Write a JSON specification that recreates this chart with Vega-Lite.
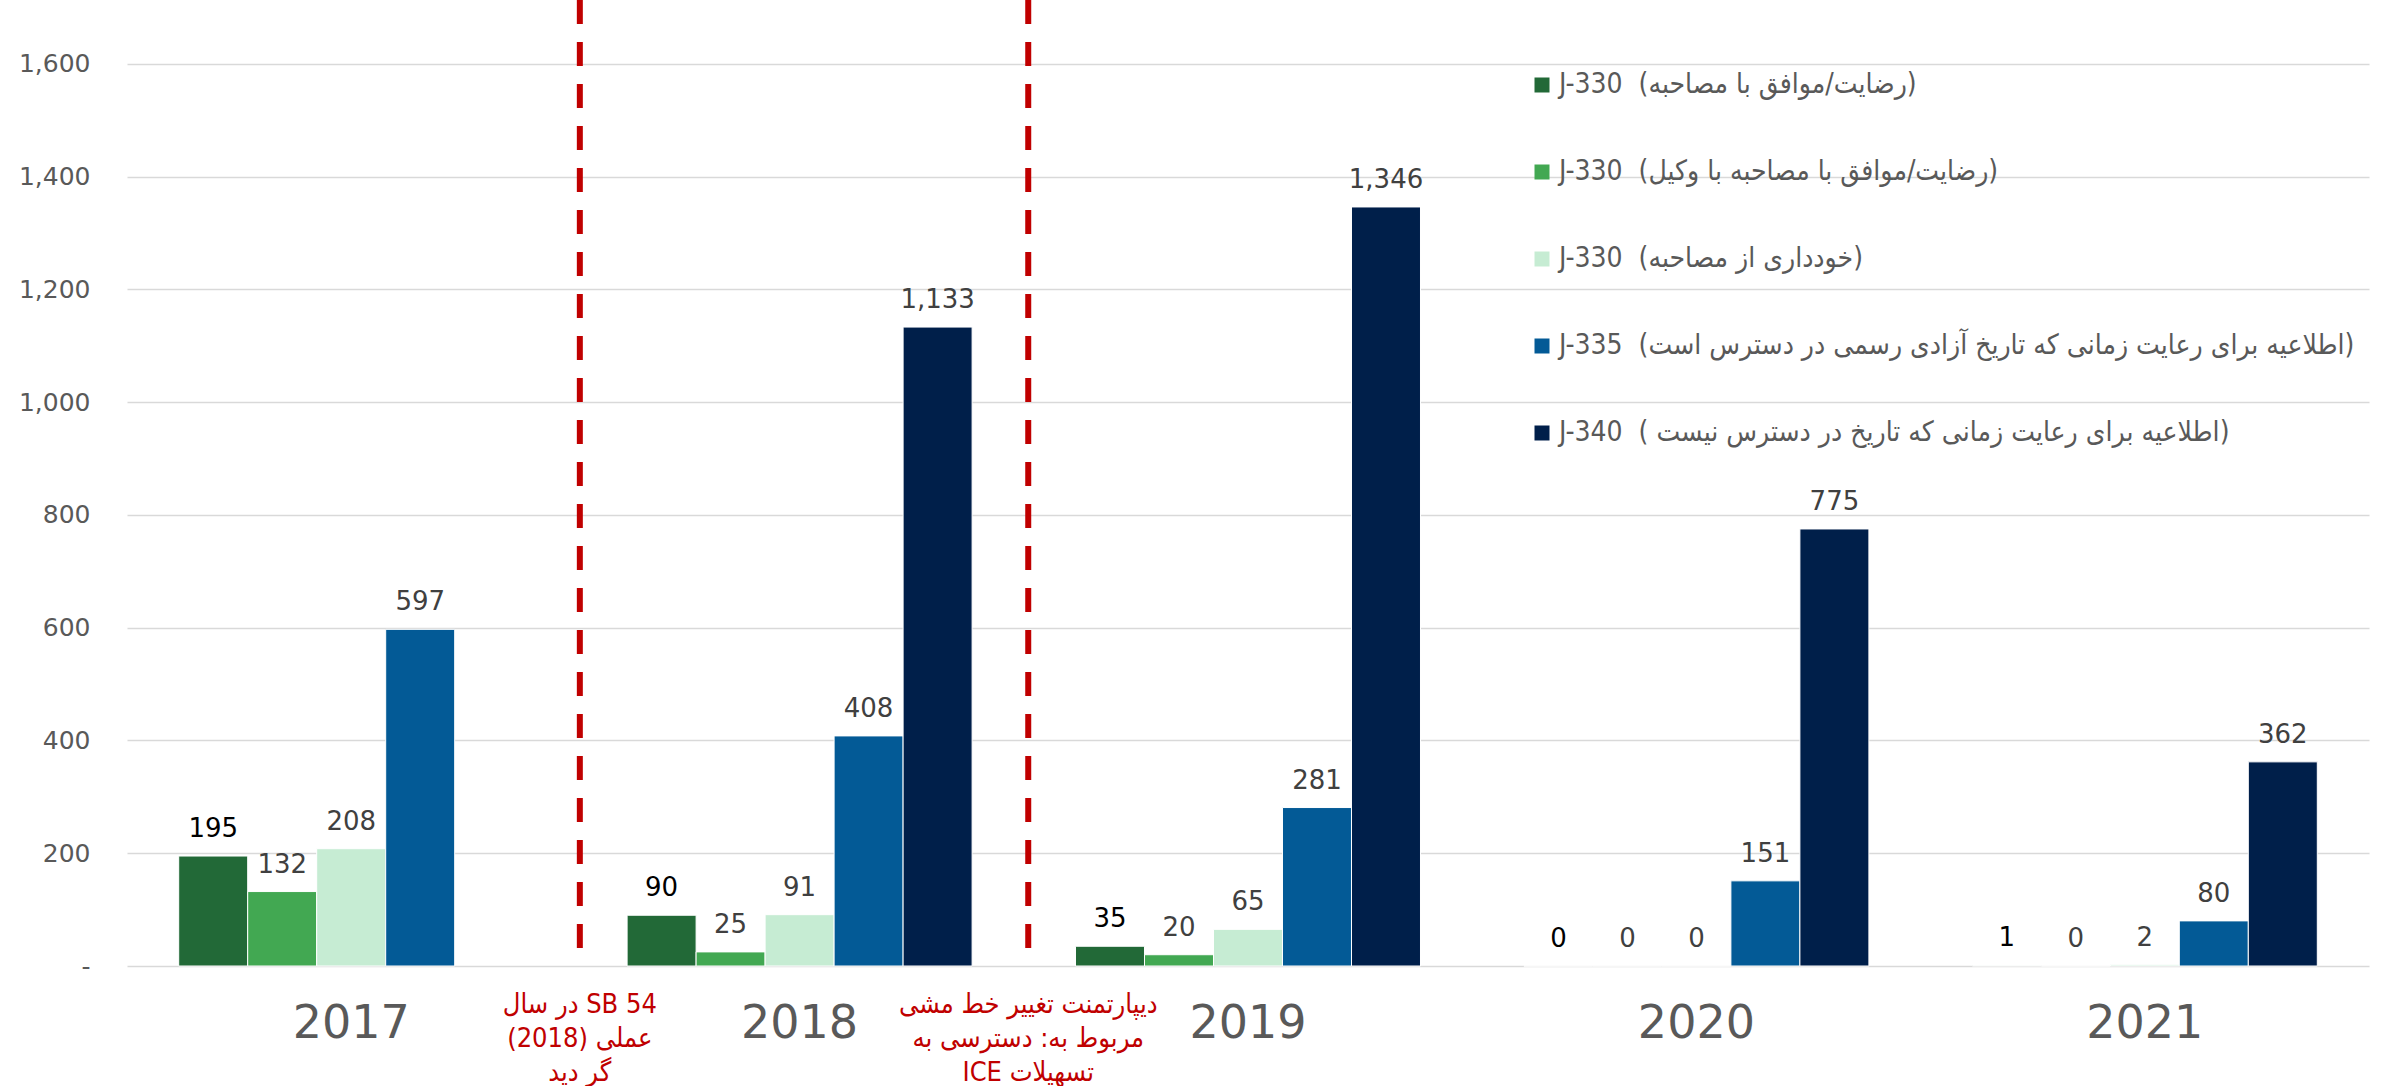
{
  "$schema": "https://vega.github.io/schema/vega-lite/v6.json",
  "width": 2242,
  "height": 966,
  "autosize": {"type": "none"},
  "padding": {"left": 127, "top": 0, "right": 25, "bottom": 120},
  "background": "white",
  "config": {"view": {"stroke": null}, "font": "DejaVu Sans"},
  "datasets": {
    "bars": [
      {"year": "2017", "series": "J-330\u00a0\u00a0(رضایت/موافق با مصاحبه)", "value": 195},
      {"year": "2017", "series": "J-330\u00a0\u00a0(رضایت/موافق با مصاحبه با وکیل)", "value": 132},
      {"year": "2017", "series": "J-330\u00a0\u00a0(خودداری از مصاحبه)", "value": 208},
      {"year": "2017", "series": "J-335\u00a0\u00a0(اطلاعیه برای رعایت زمانی که تاریخ آزادی رسمی در دسترس است)", "value": 597},
      {"year": "2018", "series": "J-330\u00a0\u00a0(رضایت/موافق با مصاحبه)", "value": 90},
      {"year": "2018", "series": "J-330\u00a0\u00a0(رضایت/موافق با مصاحبه با وکیل)", "value": 25},
      {"year": "2018", "series": "J-330\u00a0\u00a0(خودداری از مصاحبه)", "value": 91},
      {"year": "2018", "series": "J-335\u00a0\u00a0(اطلاعیه برای رعایت زمانی که تاریخ آزادی رسمی در دسترس است)", "value": 408},
      {"year": "2018", "series": "J-340\u00a0\u00a0( اطلاعیه برای رعایت زمانی که تاریخ در دسترس نیست)", "value": 1133},
      {"year": "2019", "series": "J-330\u00a0\u00a0(رضایت/موافق با مصاحبه)", "value": 35},
      {"year": "2019", "series": "J-330\u00a0\u00a0(رضایت/موافق با مصاحبه با وکیل)", "value": 20},
      {"year": "2019", "series": "J-330\u00a0\u00a0(خودداری از مصاحبه)", "value": 65},
      {"year": "2019", "series": "J-335\u00a0\u00a0(اطلاعیه برای رعایت زمانی که تاریخ آزادی رسمی در دسترس است)", "value": 281},
      {"year": "2019", "series": "J-340\u00a0\u00a0( اطلاعیه برای رعایت زمانی که تاریخ در دسترس نیست)", "value": 1346},
      {"year": "2020", "series": "J-330\u00a0\u00a0(رضایت/موافق با مصاحبه)", "value": 0},
      {"year": "2020", "series": "J-330\u00a0\u00a0(رضایت/موافق با مصاحبه با وکیل)", "value": 0},
      {"year": "2020", "series": "J-330\u00a0\u00a0(خودداری از مصاحبه)", "value": 0},
      {"year": "2020", "series": "J-335\u00a0\u00a0(اطلاعیه برای رعایت زمانی که تاریخ آزادی رسمی در دسترس است)", "value": 151},
      {"year": "2020", "series": "J-340\u00a0\u00a0( اطلاعیه برای رعایت زمانی که تاریخ در دسترس نیست)", "value": 775},
      {"year": "2021", "series": "J-330\u00a0\u00a0(رضایت/موافق با مصاحبه)", "value": 1},
      {"year": "2021", "series": "J-330\u00a0\u00a0(رضایت/موافق با مصاحبه با وکیل)", "value": 0},
      {"year": "2021", "series": "J-330\u00a0\u00a0(خودداری از مصاحبه)", "value": 2},
      {"year": "2021", "series": "J-335\u00a0\u00a0(اطلاعیه برای رعایت زمانی که تاریخ آزادی رسمی در دسترس است)", "value": 80},
      {"year": "2021", "series": "J-340\u00a0\u00a0( اطلاعیه برای رعایت زمانی که تاریخ در دسترس نیست)", "value": 362}
    ],
    "events": [
      {"year": "2018", "note": "\u200eدر سال SB 54\n\u200e(2018) عملی\nگر دید"},
      {"year": "2019", "note": "دیپارتمنت تغییر خط مشی\nمربوط به: دسترسی به\n\u200eICE تسهیلات"}
    ]
  },
  "layer": [
    {
      "data": {"name": "bars"},
      "mark": {"type": "bar", "stroke": "white", "strokeWidth": 1},
      "encoding": {
        "x": {
          "field": "year", "type": "nominal",
          "scale": {"paddingInner": 0.2306, "paddingOuter": 0.1153},
          "axis": {"title": null, "labelAngle": 0, "labelFontSize": 46, "labelColor": "#595959", "labelPadding": 35, "domain": false, "ticks": false, "labelFont": "DejaVu Sans"}
        },
        "xOffset": {
          "field": "series", "type": "nominal",
          "scale": {"domain": [
            "J-330\u00a0\u00a0(رضایت/موافق با مصاحبه)",
            "J-330\u00a0\u00a0(رضایت/موافق با مصاحبه با وکیل)",
            "J-330\u00a0\u00a0(خودداری از مصاحبه)",
            "J-335\u00a0\u00a0(اطلاعیه برای رعایت زمانی که تاریخ آزادی رسمی در دسترس است)",
            "J-340\u00a0\u00a0( اطلاعیه برای رعایت زمانی که تاریخ در دسترس نیست)"
          ], "paddingInner": 0, "paddingOuter": 0}
        },
        "y": {
          "field": "value", "type": "quantitative",
          "scale": {"domain": [0, 1713], "nice": false},
          "axis": {"title": null, "values": [0, 200, 400, 600, 800, 1000, 1200, 1400, 1600], "labelExpr": "datum.value === 0 ? '-\u00a0\u00a0\u00a0' : format(datum.value, ',')", "domain": false, "ticks": false, "gridColor": "#d9d9d9", "gridWidth": 1.5, "labelFontSize": 25, "labelColor": "#595959", "labelPadding": 37, "labelFont": "DejaVu Sans"}
        },
        "color": {
          "field": "series", "type": "nominal",
          "scale": {"domain": [
            "J-330\u00a0\u00a0(رضایت/موافق با مصاحبه)",
            "J-330\u00a0\u00a0(رضایت/موافق با مصاحبه با وکیل)",
            "J-330\u00a0\u00a0(خودداری از مصاحبه)",
            "J-335\u00a0\u00a0(اطلاعیه برای رعایت زمانی که تاریخ آزادی رسمی در دسترس است)",
            "J-340\u00a0\u00a0( اطلاعیه برای رعایت زمانی که تاریخ در دسترس نیست)"
          ], "range": ["#226937", "#42A852", "#C6ECD3", "#035A96", "#001F4A"]},
          "legend": {"orient": "none", "legendX": 1401, "legendY": 71, "title": null, "symbolType": "square", "symbolSize": 225, "symbolStrokeWidth": 0, "labelFont": "DejaVu Sans Condensed", "labelFontSize": 28, "labelColor": "#595959", "labelLimit": 1000, "rowPadding": 59, "labelOffset": 3, "padding": 0}
        }
      }
    },
    {
      "data": {"name": "bars"},
      "mark": {"type": "text", "baseline": "alphabetic", "dy": -19, "fontSize": 26, "font": "DejaVu Sans"},
      "encoding": {
        "x": {"field": "year", "type": "nominal"},
        "xOffset": {"field": "series", "type": "nominal"},
        "y": {"field": "value", "type": "quantitative"},
        "text": {"field": "value", "type": "quantitative", "format": ","},
        "color": {"condition": {"test": "datum.series === 'J-330\u00a0\u00a0(رضایت/موافق با مصاحبه)'", "value": "#000000"}, "value": "#404040"}
      }
    },
    {
      "data": {"name": "events"},
      "mark": {"type": "rule", "color": "#C00000", "strokeWidth": 6, "strokeDash": [24, 18]},
      "encoding": {
        "x": {"field": "year", "type": "nominal", "bandPosition": -0.137},
        "y": {"datum": 1713},
        "y2": {"datum": 23}
      }
    },
    {
      "data": {"name": "events"},
      "mark": {"type": "text", "lineBreak": "\n", "align": "center", "baseline": "top", "dy": 26, "fontSize": 27, "lineHeight": 34, "color": "#C00000", "font": "DejaVu Sans Condensed"},
      "encoding": {
        "x": {"field": "year", "type": "nominal", "bandPosition": -0.137},
        "y": {"datum": 0},
        "text": {"field": "note"}
      }
    }
  ]
}
